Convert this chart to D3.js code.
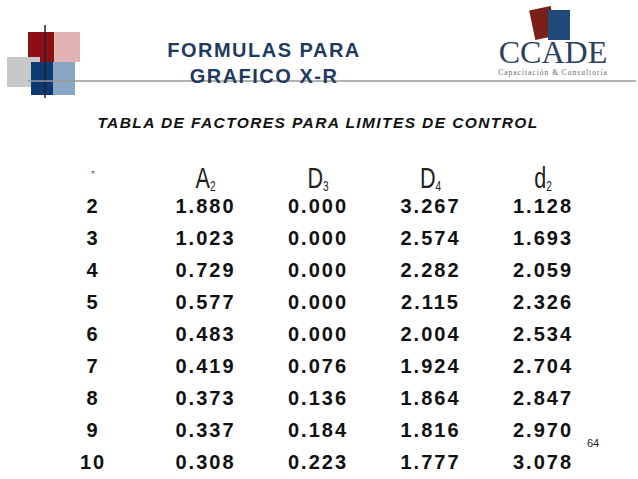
<!DOCTYPE html><html><head><meta charset="utf-8"><script src="https://cdn.jsdelivr.net/npm/d3@7"></script>
<style>body{margin:0;background:#fff}</style></head><body><svg id="c" width="638" height="479"></svg>
<script>
const nVals=["2","3","4","5","6","7","8","9","10"];
const A2=["1.880","1.023","0.729","0.577","0.483","0.419","0.373","0.337","0.308"];
const D3v=["0.000","0.000","0.000","0.000","0.000","0.076","0.136","0.184","0.223"];
const D4=["3.267","2.574","2.282","2.115","2.004","1.924","1.864","1.816","1.777"];
const d2=["1.128","1.693","2.059","2.326","2.534","2.704","2.847","2.970","3.078"];
const headers=[["\u201d",""],["A","2"],["D","3"],["D","4"],["d","2"]];
const cols=[nVals,A2,D3v,D4,d2];
const svg=d3.select("#c");
svg.append("rect").attr("x",28).attr("y",32).attr("width",26).attr("height",30).attr("fill","#8b0f14");
svg.append("rect").attr("x",54).attr("y",32).attr("width",26).attr("height",30).attr("fill","#d9a0a3").attr("opacity",0.8);
svg.append("rect").attr("x",7).attr("y",57).attr("width",33).attr("height",30).attr("fill","#c8c8c8");
svg.append("rect").attr("x",31).attr("y",62).attr("width",22).attr("height",33).attr("fill","#0d3a73");
svg.append("rect").attr("x",53).attr("y",62).attr("width",22).attr("height",33).attr("fill","#8aa6c5");
svg.append("line").attr("x1",45).attr("x2",45).attr("y1",25).attr("y2",98).attr("stroke","#222").attr("stroke-width",1.5);
svg.append("line").attr("x1",28).attr("x2",636).attr("y1",81).attr("y2",81).attr("stroke","#999").attr("stroke-width",1.5);
svg.append("rect").attr("x",532).attr("y",8).attr("width",22).attr("height",30).attr("fill","#7a1f1a").attr("transform","rotate(-12 543 23)");
svg.append("rect").attr("x",548).attr("y",10).attr("width",22).attr("height",30).attr("fill","#1f4a7a");
svg.append("text").attr("x",553).attr("y",63).attr("text-anchor","middle").attr("font-family","Liberation Serif").attr("font-size",32).attr("fill","#2a4060").text("CCADE");
svg.append("text").attr("x",553).attr("y",75).attr("text-anchor","middle").attr("font-family","Liberation Serif").attr("font-size",7.5).attr("fill","#666").attr("letter-spacing",1).text("Capacitación & Consultoría");
svg.append("text").attr("x",264).attr("y",57).attr("text-anchor","middle").attr("font-family","Liberation Sans").attr("font-weight","bold").attr("font-size",20).attr("letter-spacing",1.5).attr("fill","#1f3a5f").text("FORMULAS PARA");
svg.append("text").attr("x",264).attr("y",83).attr("text-anchor","middle").attr("font-family","Liberation Sans").attr("font-weight","bold").attr("font-size",20).attr("letter-spacing",1.5).attr("fill","#1f3a5f").text("GRAFICO X-R");
svg.append("text").attr("x",318).attr("y",128).attr("text-anchor","middle").attr("font-family","Liberation Sans").attr("font-weight","bold").attr("font-style","italic").attr("font-size",15.5).attr("letter-spacing",1.4).attr("fill","#111").text("TABLA DE FACTORES PARA LIMITES DE CONTROL");
const x=d3.scalePoint().domain(d3.range(5)).range([93,543]);
const y=d3.scalePoint().domain(nVals).range([213,469]);
headers.forEach((h,i)=>{
  const g=svg.append("g").attr("transform",`translate(${x(i)},${i==0?180:188}) scale(0.72,1)`);
  const t=g.append("text").attr("text-anchor","middle").attr("font-family","Liberation Sans").attr("font-size",i==0?12:30).attr("fill","#222");
  t.append("tspan").text(h[0]);
  if(h[1]) t.append("tspan").attr("font-size",14).attr("dy",3).text(h[1]);
});
cols.forEach((c,i)=>{
  svg.append("g").selectAll("text").data(c).join("text").attr("x",x(i)).attr("y",(d,j)=>y(nVals[j]))
   .attr("text-anchor","middle").attr("font-family","Liberation Sans").attr("font-weight","bold").attr("font-size",20).attr("letter-spacing",2).attr("fill","#111").text(d=>d);
});
svg.append("text").attr("x",593).attr("y",447).attr("text-anchor","middle").attr("font-family","Liberation Sans").attr("font-size",11).attr("fill","#222").text("64");
</script></body></html>
